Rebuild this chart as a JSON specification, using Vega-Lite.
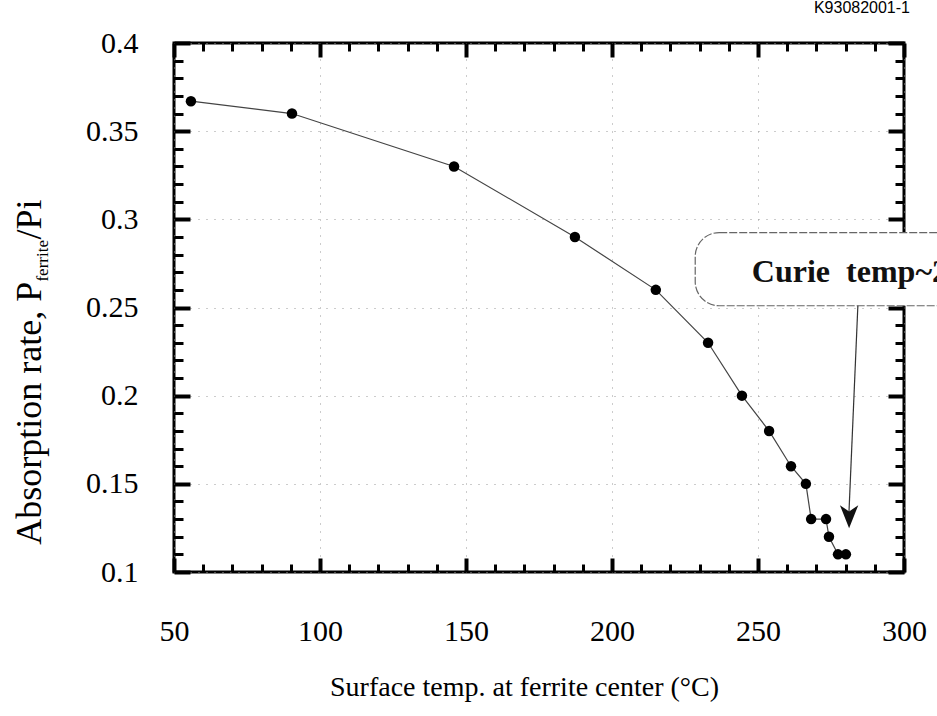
{
  "$schema": "https://vega.github.io/schema/vega-lite/v6.json",
  "autosize": {"type": "none"},
  "width": 730,
  "height": 529,
  "padding": {"left": 174, "top": 43, "right": 33, "bottom": 144},
  "background": "white",
  "title": {"text": "K93082001-1", "anchor": "end", "frame": "group", "font": "Liberation Sans", "fontSize": 16, "fontWeight": "normal", "color": "black", "offset": 12, "dx": 6},
  "datasets": {
    "pts": [
      {"temp": 55.8, "rate": 0.367},
      {"temp": 90.4, "rate": 0.360},
      {"temp": 145.9, "rate": 0.330},
      {"temp": 187.3, "rate": 0.290},
      {"temp": 215.0, "rate": 0.260},
      {"temp": 232.9, "rate": 0.230},
      {"temp": 244.5, "rate": 0.200},
      {"temp": 253.8, "rate": 0.180},
      {"temp": 261.3, "rate": 0.160},
      {"temp": 266.4, "rate": 0.150},
      {"temp": 268.2, "rate": 0.130},
      {"temp": 273.3, "rate": 0.130},
      {"temp": 274.3, "rate": 0.120},
      {"temp": 277.4, "rate": 0.110},
      {"temp": 280.1, "rate": 0.110}
    ]
  },
  "config": {
    "view": {"stroke": "black", "strokeWidth": 3},
    "axis": {"domain": false, "labelFont": "Liberation Serif", "labelFontSize": 30, "labelColor": "black", "tickColor": "black", "titleFont": "Liberation Serif", "titleFontWeight": "normal", "titleFontSize": 28, "titleColor": "black", "labelFlush": false}
  },
  "resolve": {"axis": {"x": "independent", "y": "independent"}},
  "layer": [
    {
      "data": {"name": "pts"},
      "mark": {"type": "line", "stroke": "#444", "strokeWidth": 1.2},
      "encoding": {
        "x": {"field": "temp", "type": "quantitative", "scale": {"domain": [50, 300], "nice": false, "zero": false},
          "axis": {"orient": "bottom", "values": [50, 100, 150, 200, 250, 300],
            "tickSize": -14, "tickWidth": 4,
            "labelPadding": 58, "labelBaseline": "top",
            "grid": true, "gridDash": [1, 7], "gridColor": "#999", "gridWidth": 1,
            "title": "Surface temp. at ferrite center (°C)", "titleBaseline": "alphabetic", "titleY": 123, "titleX": 350}},
        "y": {"field": "rate", "type": "quantitative", "scale": {"domain": [0.1, 0.4], "nice": false, "zero": false},
          "axis": {"orient": "left", "values": [0.1, 0.15, 0.2, 0.25, 0.3, 0.35, 0.4],
            "tickSize": -16, "tickWidth": 4,
            "labelExpr": "format(datum.value, '~g')",
            "labelPadding": 52,
            "grid": true, "gridDash": [1, 7], "gridColor": "#999", "gridWidth": 1,
            "title": null}}
      }
    },
    {
      "data": {"name": "pts"},
      "mark": {"type": "point", "filled": true, "color": "black", "size": 110, "opacity": 1},
      "encoding": {
        "x": {"field": "temp", "type": "quantitative", "scale": {"domain": [50, 300], "nice": false, "zero": false},
          "axis": {"orient": "bottom", "values": [60,70,80,90,110,120,130,140,160,170,180,190,210,220,230,240,260,270,280,290],
            "tickSize": -8, "tickWidth": 3, "labels": false, "grid": false, "title": null}},
        "y": {"field": "rate", "type": "quantitative", "scale": {"domain": [0.1, 0.4], "nice": false, "zero": false},
          "axis": {"orient": "left", "values": [0.11,0.12,0.13,0.14,0.16,0.17,0.18,0.19,0.21,0.22,0.23,0.24,0.26,0.27,0.28,0.29,0.31,0.32,0.33,0.34,0.36,0.37,0.38,0.39],
            "tickSize": -9, "tickWidth": 3, "labels": false, "grid": false, "title": null}}
      }
    },
    {
      "data": {"name": "pts"},
      "mark": {"type": "point", "opacity": 0},
      "encoding": {
        "x": {"field": "temp", "type": "quantitative", "scale": {"domain": [50, 300], "nice": false, "zero": false},
          "axis": {"orient": "top", "values": [50, 100, 150, 200, 250, 300],
            "tickSize": -14, "tickWidth": 4, "labels": false, "grid": false, "title": null}},
        "y": {"field": "rate", "type": "quantitative", "scale": {"domain": [0.1, 0.4], "nice": false, "zero": false},
          "axis": {"orient": "right", "values": [0.1, 0.15, 0.2, 0.25, 0.3, 0.35, 0.4],
            "tickSize": -16, "tickWidth": 4, "labels": false, "grid": false, "title": null}}
      }
    },
    {
      "data": {"name": "pts"},
      "mark": {"type": "point", "opacity": 0},
      "encoding": {
        "x": {"field": "temp", "type": "quantitative", "scale": {"domain": [50, 300], "nice": false, "zero": false},
          "axis": {"orient": "top", "values": [60,70,80,90,110,120,130,140,160,170,180,190,210,220,230,240,260,270,280,290],
            "tickSize": -8, "tickWidth": 3, "labels": false, "grid": false, "title": null}},
        "y": {"field": "rate", "type": "quantitative", "scale": {"domain": [0.1, 0.4], "nice": false, "zero": false},
          "axis": {"orient": "right", "values": [0.11,0.12,0.13,0.14,0.16,0.17,0.18,0.19,0.21,0.22,0.23,0.24,0.26,0.27,0.28,0.29,0.31,0.32,0.33,0.34,0.36,0.37,0.38,0.39],
            "tickSize": -9, "tickWidth": 3, "labels": false, "grid": false, "title": null}}
      }
    },
    {
      "data": {"values": [{"x1": 228.5, "x2": 340, "y1": 0.2925, "y2": 0.2510}]},
      "mark": {"type": "rect", "fill": "white", "stroke": "#666", "strokeWidth": 1.2, "strokeDash": [8, 2], "cornerRadius": 24},
      "encoding": {
        "x": {"field": "x1", "type": "quantitative", "scale": {"domain": [50, 300], "nice": false, "zero": false}, "axis": null},
        "x2": {"field": "x2"},
        "y": {"field": "y1", "type": "quantitative", "scale": {"domain": [0.1, 0.4], "nice": false, "zero": false}, "axis": null},
        "y2": {"field": "y2"}
      }
    },
    {
      "data": {"values": [{"x": 247.9, "y": 0.270, "label": "Curie\u00a0 temp~280°C"}]},
      "mark": {"type": "text", "font": "Liberation Serif", "fontWeight": "bold", "fontSize": 32, "align": "left", "baseline": "middle", "color": "#111"},
      "encoding": {
        "x": {"field": "x", "type": "quantitative", "scale": {"domain": [50, 300], "nice": false, "zero": false}, "axis": null},
        "y": {"field": "y", "type": "quantitative", "scale": {"domain": [0.1, 0.4], "nice": false, "zero": false}, "axis": null},
        "text": {"field": "label"}
      }
    },
    {
      "data": {"values": [{"x1": 284.2, "y1": 0.2510, "x2": 281.0, "y2": 0.128}]},
      "mark": {"type": "rule", "color": "#333", "strokeWidth": 1.2},
      "encoding": {
        "x": {"field": "x1", "type": "quantitative", "scale": {"domain": [50, 300], "nice": false, "zero": false}, "axis": null},
        "y": {"field": "y1", "type": "quantitative", "scale": {"domain": [0.1, 0.4], "nice": false, "zero": false}, "axis": null},
        "x2": {"field": "x2"},
        "y2": {"field": "y2"}
      }
    },
    {
      "data": {"values": [{"x": 281.2, "y": 0.1314}]},
      "mark": {"type": "point", "filled": true, "color": "#111", "opacity": 1, "size": 529, "shape": "M-0.8,-1 L0,-0.45 L0.8,-1 L0,1 Z"},
      "encoding": {
        "x": {"field": "x", "type": "quantitative", "scale": {"domain": [50, 300], "nice": false, "zero": false}, "axis": null},
        "y": {"field": "y", "type": "quantitative", "scale": {"domain": [0.1, 0.4], "nice": false, "zero": false}, "axis": null}
      }
    },
    {
      "data": {"values": [{"x": 4.6, "y": 0.1155, "label": "Absorption rate, P"}]},
      "mark": {"type": "text", "font": "Liberation Serif", "fontSize": 36, "angle": 270, "align": "left", "baseline": "alphabetic", "color": "black"},
      "encoding": {
        "x": {"field": "x", "type": "quantitative", "scale": {"domain": [50, 300], "nice": false, "zero": false}, "axis": null},
        "y": {"field": "y", "type": "quantitative", "scale": {"domain": [0.1, 0.4], "nice": false, "zero": false}, "axis": null},
        "text": {"field": "label"}
      }
    },
    {
      "data": {"values": [{"x": 6.8, "y": 0.2647, "label": "ferrite"}]},
      "mark": {"type": "text", "font": "Liberation Serif", "fontSize": 17, "angle": 270, "align": "left", "baseline": "alphabetic", "color": "black"},
      "encoding": {
        "x": {"field": "x", "type": "quantitative", "scale": {"domain": [50, 300], "nice": false, "zero": false}, "axis": null},
        "y": {"field": "y", "type": "quantitative", "scale": {"domain": [0.1, 0.4], "nice": false, "zero": false}, "axis": null},
        "text": {"field": "label"}
      }
    },
    {
      "data": {"values": [{"x": 4.6, "y": 0.2885, "label": "/Pi"}]},
      "mark": {"type": "text", "font": "Liberation Serif", "fontSize": 36, "angle": 270, "align": "left", "baseline": "alphabetic", "color": "black"},
      "encoding": {
        "x": {"field": "x", "type": "quantitative", "scale": {"domain": [50, 300], "nice": false, "zero": false}, "axis": null},
        "y": {"field": "y", "type": "quantitative", "scale": {"domain": [0.1, 0.4], "nice": false, "zero": false}, "axis": null},
        "text": {"field": "label"}
      }
    }
  ]
}
